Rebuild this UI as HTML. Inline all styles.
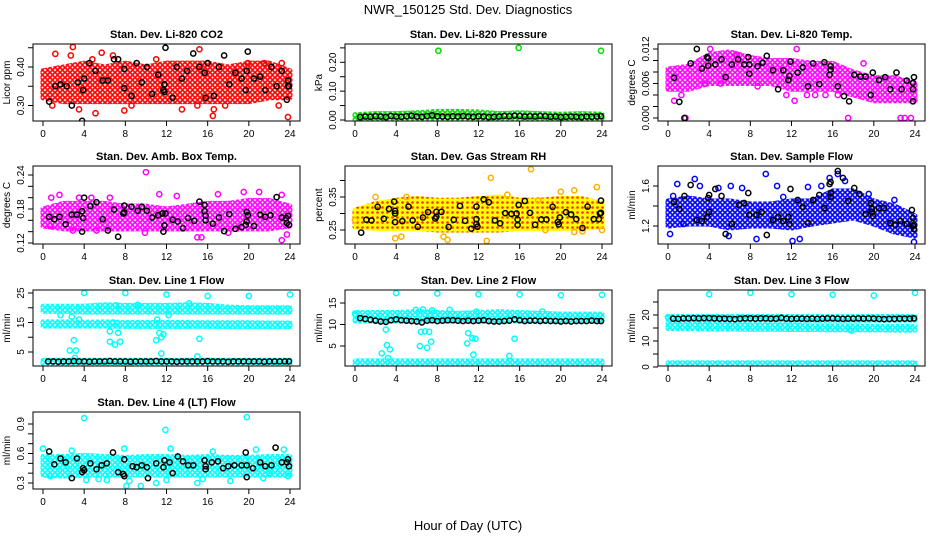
<!DOCTYPE html>
<html><head><meta charset="utf-8"><style>
html,body{margin:0;padding:0;background:#fff}
svg{display:block;font-family:"Liberation Sans",sans-serif}
</style></head><body>
<svg id="chart" width="936" height="540" viewBox="0 0 936 540">
<defs>
<pattern id="pat-red" patternUnits="userSpaceOnUse" width="5" height="5"><rect width="5" height="5" fill="#fff"/><circle cx="2.5" cy="2.5" r="1.8" fill="none" stroke="#ff0000" stroke-width="1.6"/></pattern>
<pattern id="pat-green" patternUnits="userSpaceOnUse" width="5" height="5"><rect width="5" height="5" fill="#fff"/><circle cx="2.5" cy="2.5" r="1.8" fill="none" stroke="#00dd00" stroke-width="1.6"/></pattern>
<pattern id="pat-magenta" patternUnits="userSpaceOnUse" width="5" height="5"><rect width="5" height="5" fill="#fff"/><circle cx="2.5" cy="2.5" r="1.8" fill="none" stroke="#ff00ff" stroke-width="1.6"/></pattern>
<pattern id="pat-orange" patternUnits="userSpaceOnUse" width="5" height="5"><rect width="5" height="5" fill="#ffff00"/><circle cx="2.5" cy="2.5" r="1.3" fill="#ff3000"/></pattern>
<pattern id="pat-blue" patternUnits="userSpaceOnUse" width="5" height="5"><rect width="5" height="5" fill="#fff"/><circle cx="2.5" cy="2.5" r="1.8" fill="none" stroke="#0000ff" stroke-width="1.6"/></pattern>
<pattern id="pat-cyan" patternUnits="userSpaceOnUse" width="5" height="5"><rect width="5" height="5" fill="#fff"/><circle cx="2.5" cy="2.5" r="1.8" fill="none" stroke="#00ffff" stroke-width="1.7"/></pattern>
</defs>
<text x="468" y="14" text-anchor="middle" font-size="13">NWR_150125  Std. Dev. Diagnostics</text>
<text x="468" y="530" text-anchor="middle" font-size="13">Hour of Day (UTC)</text>
</svg>
<script>
// ---- data ----
const bandHours = [0,2,4,6,8,10,12,14,16,18,20,22,24];
const chainHours = [0.5,1,1.5,2,2.5,3,3.5,4,4.5,5,5.5,6,6.5,7,7.5,8,8.5,9,9.5,10,10.5,11,11.5,12,12.5,13,13.5,14,14.5,15,15.5,16,16.5,17,17.5,18,18.5,19,19.5,20,20.5,21,21.5,22,22.5,23,23.5,23.9];

// P1 CO2
const co2BandLo = [0.32,0.31,0.31,0.31,0.31,0.31,0.31,0.31,0.31,0.31,0.31,0.32,0.32];
const co2BandHi = [0.39,0.40,0.41,0.40,0.41,0.40,0.41,0.41,0.41,0.40,0.41,0.41,0.39];
const co2OutH = [1.2,2.9,2.7,4.8,5.7,6.8,7.9,8.6,3.5,11,13.5,15.2,16.5,16.6,17.7,19.9,21.5,23.2,23.8,22.9,5.1,0.9,15.0];
const co2OutV = [0.434,0.452,0.43,0.42,0.437,0.43,0.287,0.30,0.29,0.42,0.29,0.446,0.273,0.29,0.30,0.41,0.41,0.41,0.27,0.30,0.28,0.30,0.30];
const co2BlkH = [0.6,1.2,1.7,2.3,2.8,3.4,3.8,3.9,4.0,4.5,5.1,5.8,6.3,6.9,7.3,7.9,7.9,8.6,9.1,9.6,10.1,10.6,11.2,11.7,11.8,11.9,11.8,12.6,13.0,13.5,14.0,14.6,15.2,15.7,15.8,16.0,16.6,17.1,17.6,18.1,18.7,19.3,19.7,19.8,19.9,20.5,21.1,21.6,22.2,22.7,23.2,23.7,23.8,23.8,23.9];
const co2BlkV = [0.31,0.35,0.355,0.35,0.30,0.36,0.26,0.34,0.37,0.41,0.39,0.365,0.365,0.42,0.42,0.395,0.345,0.325,0.41,0.36,0.40,0.33,0.38,0.34,0.335,0.45,0.355,0.32,0.40,0.37,0.39,0.435,0.40,0.385,0.32,0.41,0.325,0.40,0.43,0.355,0.385,0.37,0.34,0.39,0.44,0.37,0.375,0.34,0.40,0.35,0.39,0.315,0.365,0.35,0.35];

// P2 Pressure
const prBandLo = [0.003,0.003,0.003,0.003,0.003,0.003,0.003,0.003,0.003,0.003,0.003,0.003,0.003];
const prBandHi = [0.018,0.022,0.022,0.025,0.030,0.030,0.028,0.022,0.025,0.022,0.020,0.022,0.020];
const prOutH = [8.1,15.9,23.9];
const prOutV = [0.24,0.25,0.24];
const prBlkV = [0.010,0.012,0.011,0.013,0.012,0.010,0.014,0.012,0.011,0.013,0.015,0.012,0.011,0.014,0.016,0.013,0.012,0.011,0.013,0.012,0.014,0.012,0.011,0.013,0.012,0.010,0.011,0.012,0.014,0.013,0.015,0.014,0.012,0.013,0.012,0.014,0.013,0.011,0.012,0.010,0.011,0.012,0.011,0.010,0.012,0.011,0.012,0.013];

// P3 Li-820 Temp
const tBandLo = [0.005,0.005,0.006,0.006,0.006,0.006,0.005,0.005,0.005,0.004,0.003,0.003,0.003];
const tBandHi = [0.0085,0.009,0.011,0.0115,0.0105,0.010,0.010,0.0095,0.0095,0.008,0.007,0.007,0.006];
const tOutH = [0.6,1.7,1.3,3.6,12.3,11.5,13.5,14.3,15.3,16.5,17.5,22.6,23.0,23.6,5.1,12.5,4.1,19.0,6.7,8.7];
const tOutV = [0.003,0.000,0.004,0.006,0.003,0.004,0.004,0.004,0.004,0.004,0.000,0.000,0.000,0.000,0.006,0.012,0.012,0.0095,0.011,0.0055];
const tBlkH = [0.6,1.1,1.6,2.2,2.8,3.3,3.8,3.9,3.9,4.6,5.2,5.6,6.2,6.8,7.4,7.9,7.9,7.8,8.7,9.2,9.6,10.2,10.7,11.2,11.7,11.8,11.9,12.6,13.1,13.6,14.1,14.7,15.2,15.8,15.8,15.7,16.5,17.1,17.6,18.1,18.7,19.2,19.7,19.9,20.5,21.1,21.6,22.2,22.7,23.2,23.8,23.8,23.9,23.8];
const tBlkV = [0.0070,0.0028,0.0000,0.0095,0.0120,0.0086,0.0106,0.0104,0.0091,0.0093,0.0102,0.0071,0.0093,0.0102,0.0093,0.0077,0.0093,0.0106,0.0090,0.0096,0.0108,0.0083,0.0050,0.0083,0.0066,0.0073,0.0098,0.0079,0.0088,0.0055,0.0095,0.0059,0.0097,0.0090,0.0084,0.0075,0.0055,0.0038,0.0029,0.0075,0.0072,0.0072,0.0040,0.0079,0.0066,0.0071,0.0050,0.0079,0.0050,0.0065,0.0050,0.0061,0.0071,0.0029];

// P4 Amb box temp
const aBandLo = [0.15,0.145,0.145,0.145,0.145,0.145,0.145,0.145,0.145,0.145,0.145,0.145,0.15];
const aBandHi = [0.18,0.19,0.19,0.19,0.185,0.185,0.18,0.185,0.19,0.19,0.195,0.195,0.185];
const aOutH = [0.7,0.8,1.6,3.5,4.7,6.5,10.0,11.3,13.0,15.0,15.4,17.0,19.5,21.0,23.2,23.2,23.7,9.9,18.0,2.9,5.2];
const aOutV = [0.15,0.20,0.205,0.20,0.20,0.20,0.245,0.206,0.203,0.13,0.13,0.206,0.21,0.21,0.125,0.205,0.135,0.138,0.138,0.142,0.142];
const aBlkH = [0.6,1.1,1.6,2.2,2.8,3.3,3.8,3.8,3.9,4.0,4.6,5.2,5.8,6.3,6.9,7.3,7.8,7.9,7.9,8.6,9.2,9.6,10.1,10.6,11.2,11.6,11.7,11.8,11.9,12.6,13.1,13.6,14.1,14.7,15.2,15.7,15.7,15.8,15.8,16.5,17.1,17.6,18.1,18.7,19.3,19.7,19.8,19.8,19.9,20.5,21.1,21.6,22.1,22.7,23.2,23.6,23.7,23.8,23.9];
const aBlkV = [0.166,0.162,0.166,0.153,0.170,0.170,0.140,0.176,0.164,0.200,0.185,0.192,0.162,0.142,0.179,0.131,0.172,0.174,0.186,0.184,0.177,0.184,0.177,0.165,0.169,0.172,0.140,0.151,0.172,0.161,0.158,0.146,0.164,0.159,0.193,0.187,0.176,0.168,0.160,0.154,0.165,0.141,0.171,0.145,0.148,0.152,0.158,0.175,0.169,0.150,0.170,0.166,0.169,0.201,0.165,0.164,0.155,0.168,0.152];

// P5 Gas stream RH
const rhBandLo = [0.26,0.255,0.255,0.255,0.25,0.25,0.25,0.25,0.255,0.255,0.255,0.255,0.26];
const rhBandHi = [0.31,0.33,0.34,0.345,0.34,0.34,0.345,0.35,0.34,0.34,0.345,0.345,0.33];
const rhOutH = [17.1,13.2,12.8,23.5,20.0,21.3,14.8,9.0,8.6,4.5,3.9,21.3,22.1,24.0,0.0,2.0,5.0,18.5,17.8];
const rhOutV = [0.434,0.408,0.217,0.38,0.366,0.37,0.357,0.22,0.23,0.23,0.225,0.244,0.246,0.25,0.28,0.35,0.35,0.25,0.34];
const rhBlkH = [0.6,1.1,1.6,2.2,2.8,3.3,3.9,3.8,3.9,3.9,4.6,5.2,5.6,6.1,6.6,7.1,7.8,7.9,7.9,8.4,9.1,9.6,10.2,10.7,11.3,11.8,11.8,11.8,11.9,12.5,13.0,13.6,14.1,14.6,15.2,15.7,15.8,15.8,15.9,16.5,17.0,17.5,18.1,18.6,19.2,19.7,19.8,19.9,20.5,21.0,21.5,22.1,22.6,23.2,23.7,23.8,23.9,23.9];
const rhBlkV = [0.242,0.281,0.279,0.320,0.284,0.314,0.274,0.336,0.308,0.300,0.277,0.321,0.279,0.260,0.288,0.304,0.285,0.290,0.305,0.305,0.259,0.281,0.323,0.278,0.254,0.321,0.283,0.268,0.260,0.343,0.334,0.279,0.270,0.301,0.299,0.300,0.282,0.265,0.326,0.338,0.302,0.266,0.282,0.282,0.320,0.274,0.267,0.288,0.304,0.297,0.283,0.256,0.321,0.283,0.283,0.300,0.339,0.302];

// P6 Sample flow
const sfBandLo = [1.20,1.22,1.22,1.18,1.20,1.20,1.18,1.22,1.25,1.28,1.22,1.14,1.10];
const sfBandHi = [1.45,1.48,1.45,1.45,1.42,1.42,1.45,1.45,1.55,1.55,1.45,1.40,1.30];
const sfOutH = [0.2,0.5,0.9,2.6,3.1,4.9,6.1,7.3,7.2,9.5,10.6,11.2,12.8,13.6,14.9,15.7,16.5,17.2,23.9,8.6,5.9,1.5,22.0,12.1,19.5];
const sfOutV = [1.12,1.50,1.62,1.67,1.60,1.58,1.60,1.84,1.58,1.72,1.60,1.49,1.07,1.59,1.60,1.68,1.72,1.65,1.04,1.07,1.10,1.22,1.46,1.05,1.52];
const sfBlkH = [0.6,1.1,1.6,2.2,2.8,3.3,3.8,3.9,4.0,4.0,4.6,5.2,5.6,6.2,6.9,7.4,7.8,7.9,8.6,9.1,9.6,10.2,10.7,11.2,11.7,11.8,11.9,12.6,13.1,13.6,14.1,14.7,15.2,15.7,15.8,15.8,15.8,16.5,17.0,17.5,18.1,18.6,19.2,19.7,19.8,19.8,19.9,20.5,21.0,21.6,22.1,22.6,23.2,23.7,23.8,23.9,23.9,23.8];
const sfBlkV = [1.44,1.37,1.50,1.61,1.26,1.25,1.29,1.48,1.51,1.34,1.57,1.50,1.12,1.22,1.41,1.43,1.53,1.31,1.31,1.34,1.11,1.26,1.29,1.25,1.29,1.22,1.57,1.46,1.39,1.23,1.46,1.51,1.38,1.62,1.64,1.53,1.49,1.75,1.68,1.45,1.58,1.52,1.32,1.43,1.34,1.37,1.30,1.38,1.38,1.23,1.21,1.25,1.22,1.36,1.28,1.21,1.17,1.20];

// P7 Line 1 flow
const l1UpLo = [18.8,18.8,18.5,18.5,18.5,18.5,18.5,18.5,18.5,18.5,18.5,18.5,18.5];
const l1UpHi = [20.5,20.5,20.5,21.0,20.8,20.8,20.8,21.0,20.8,20.2,20.0,20.0,20.0];
const l1MidLo = [13.8,13.8,13.8,13.8,13.7,13.7,13.7,13.7,13.7,13.6,13.6,13.6,13.6];
const l1MidHi = [15.2,15.2,15.1,15.2,15.0,15.0,15.0,15.0,14.9,14.9,14.9,14.8,14.8];
const l1LowLo = [1.0,1.0,1.0,1.0,1.0,1.0,1.0,1.0,1.0,1.0,1.0,1.0,1.0];
const l1LowHi = [2.2,2.2,2.2,2.2,2.2,2.2,2.2,2.2,2.2,2.2,2.2,2.2,2.2];
const l1OutH = [4,8,12,16,20,24,2.6,3.2,3.0,3.1,2.8,6.5,6.5,7.0,7.3,7.5,11,11.1,11.3,11.5,11.7,11.5,15.2,15.0,7.1,9.2,14.2,1.7,3.5,6.8,12.2];
const l1OutV = [25,25,24.5,24,24,24.5,5.5,5.5,9,3,17,12,8.5,7.5,11.5,8.5,9,16,11.5,10,11,4.5,9.5,3.5,20.8,21,21.5,17.5,16,15,17.5];
const l1BlkV = [1.8,1.8,1.7,1.8,1.8,1.9,1.8,1.8,1.7,1.8,1.8,1.8,1.9,1.8,1.8,1.8,1.7,1.8,1.8,1.8,1.8,1.9,1.8,1.8,1.8,1.7,1.8,1.8,1.8,1.8,1.8,1.9,1.8,1.8,1.8,1.7,1.8,1.8,1.8,1.8,1.8,1.8,1.7,1.8,1.8,1.8,1.8,1.8];

// P8 Line 2 flow
const l2UpLo = [10.8,10.8,10.8,10.8,10.8,10.8,10.8,10.8,10.8,10.8,10.8,10.8,10.8];
const l2UpHi = [12.8,12.8,12.8,13.0,12.8,12.6,12.8,13.0,12.8,12.6,12.4,12.4,12.4];
const l2LowLo = [0.8,0.8,0.8,0.8,0.8,0.8,0.8,0.8,0.8,0.8,0.8,0.8,0.8];
const l2LowHi = [1.5,1.5,1.5,1.5,1.5,1.5,1.5,1.5,1.5,1.5,1.5,1.5,1.5];
const l2OutH = [0,4,8,12,16,20,24,3.0,2.6,3.1,3.2,3.4,6.3,6.4,6.8,7.0,7.2,7.4,6.6,7.5,11.0,11.4,11.7,10.9,11.5,15.0,15.5,9.2,5.9,11.8,18.2];
const l2OutV = [12.5,17.3,17.2,17,17,16.8,16.9,8.8,3.3,5.2,2.2,4.2,5.0,8.3,8.4,4.6,8.3,6.0,13.5,13.3,8.0,6.8,6.7,5.6,3.0,2.7,6.7,13.4,13.4,13.0,13.0];
const l2BlkV = [11.5,11.3,11.1,10.9,10.7,10.6,11.0,11.2,11.0,10.9,10.8,10.7,10.5,10.9,11.0,10.8,10.9,11.0,11.0,10.9,10.8,10.9,10.8,10.9,11.0,10.8,10.7,10.7,10.8,10.9,11.2,11.0,10.8,10.9,10.9,10.8,10.9,10.8,10.8,10.7,10.8,10.7,10.8,10.8,10.8,10.9,10.8,10.8];

// P9 Line 3 flow
const l3UpLo = [18.0,18.0,18.0,18.0,18.0,18.0,18.0,18.0,18.0,18.0,18.0,18.0,18.0];
const l3UpHi = [19.4,19.4,19.4,19.4,19.4,19.4,19.4,19.4,19.4,19.4,19.4,19.4,19.4];
const l3MidLo = [14.8,14.8,14.6,14.6,14.5,14.5,14.4,14.4,14.3,14.3,14.3,14.2,14.2];
const l3MidHi = [16.6,16.4,16.2,16.2,16.0,16.0,16.0,15.8,15.8,15.8,15.6,15.6,15.6];
const l3LowLo = [0.6,0.6,0.6,0.6,0.6,0.6,0.6,0.6,0.6,0.6,0.6,0.6,0.6];
const l3LowHi = [1.6,1.6,1.6,1.6,1.6,1.6,1.6,1.6,1.6,1.6,1.6,1.6,1.6];
const l3OutH = [4,8,12,16,20,24,17.8,0.0];
const l3OutV = [28,28.5,28,27.8,27.5,28.5,14,19.2];
const l3BlkV = [18.6,18.5,18.7,18.7,18.8,18.7,18.8,18.8,18.7,18.6,18.6,18.5,18.4,18.6,18.7,18.7,18.6,18.7,18.7,18.6,18.6,18.9,18.6,18.5,18.6,18.6,18.5,18.6,18.5,18.6,18.7,18.7,18.6,18.5,18.6,18.6,18.7,18.6,18.7,18.6,18.5,18.4,18.5,18.5,18.6,18.6,18.6,18.7];

// P10 Line 4 flow
const l4BandLo = [0.38,0.37,0.38,0.38,0.38,0.38,0.38,0.38,0.38,0.38,0.38,0.38,0.38];
const l4BandHi = [0.57,0.57,0.58,0.57,0.56,0.57,0.57,0.56,0.57,0.56,0.56,0.57,0.57];
const l4OutH = [0,4.0,4.2,6.2,7.9,8.1,8.4,9.5,11.9,12.0,12.4,15.0,15.5,18.2,19.8,20.7,21.4,22.0,23.4,23.8,2.8,0.7,5.4,16.5,11.0];
const l4OutV = [0.65,0.96,0.33,0.33,0.65,0.27,0.32,0.27,0.84,0.33,0.65,0.30,0.34,0.32,0.97,0.64,0.35,0.40,0.64,0.37,0.63,0.37,0.34,0.62,0.30];
const l4BlkH = [0.6,1.1,1.7,2.2,2.8,3.3,3.8,3.9,4.0,4.6,5.2,5.7,6.2,6.8,7.3,7.8,7.9,7.9,8.7,9.1,9.6,10.1,10.2,11.0,11.7,11.8,12.3,12.6,13.1,13.6,14.1,14.6,15.7,15.8,15.8,16.4,17.0,17.5,18.0,18.6,19.3,19.7,19.8,19.8,20.4,21.1,21.6,22.2,22.6,23.2,23.7,23.8,23.9];
const l4BlkV = [0.62,0.49,0.55,0.51,0.35,0.55,0.41,0.45,0.43,0.50,0.44,0.48,0.50,0.61,0.41,0.39,0.37,0.54,0.47,0.46,0.48,0.46,0.35,0.50,0.46,0.53,0.51,0.40,0.57,0.52,0.48,0.48,0.53,0.47,0.44,0.51,0.52,0.45,0.47,0.48,0.48,0.61,0.48,0.36,0.45,0.51,0.47,0.48,0.66,0.51,0.51,0.54,0.47];

const xTickVals = [0,4,8,12,16,20,24];

// ---- layout (not data) ----
const colX0 = [43,355,668], colBoxL = [33,345,658], colBoxR = [300,612,925], xSpan = 247;
const rowTop = [44,166,290,412], rowBot = [121,244,366,489];

const svg = document.getElementById('chart');
const NS = 'http://www.w3.org/2000/svg';
function mk(tag, attrs, parent){
  const e = document.createElementNS(NS, tag);
  for (const k in attrs) e.setAttribute(k, attrs[k]);
  (parent||svg).appendChild(e);
  return e;
}

function panel(cfg){
  const c = cfg.col, r = cfg.row;
  const g = mk('g', {});
  
  
  const xs = h => colX0[c] + h / 24 * xSpan;
  const ys = v => cfg.p0 + (v - cfg.v0) * (cfg.p1 - cfg.p0) / (cfg.v1 - cfg.v0);
  const L = colBoxL[c], R = colBoxR[c], T = rowTop[r], B = rowBot[r];
  const t = mk('text', {x:(L+R)/2, y:T-6, 'text-anchor':'middle', 'font-size':'11', 'font-weight':'bold'}, g);
  t.textContent = cfg.title;
  
  
  const clip = mk('clipPath', {id:'clip-'+cfg.id}, g);
  mk('rect', {x:L, y:T, width:R-L, height:B-T}, clip);
  const pg = mk('g', {'clip-path':'url(#clip-'+cfg.id+')'}, g);
  (cfg.bands||[]).forEach((bd, bi) => {
    let pts = [];
    bandHours.forEach((h,i) => pts.push(xs(h)+','+ys(bd.hi[i])));
    for (let i = bandHours.length-1; i >= 0; i--) pts.push(xs(bandHours[i])+','+ys(bd.lo[i]));
    const p = mk('polygon', {points:pts.join(' '), fill:'url(#'+cfg.pat+')', stroke:'url(#'+cfg.pat+')', 'stroke-width':'5', 'stroke-linejoin':'round'}, pg);
    
    
  });
  (cfg.series||[]).forEach(s => {
    s.h.forEach((h,i) => {
      const cc = mk('circle', {cx:xs(h), cy:ys(s.v[i]), r:2.6, fill:'none', stroke:s.color, 'stroke-width':'1.5'}, pg);
      
      
    });
  });
  const bx = mk('rect', {x:L, y:T, width:R-L, height:B-T, fill:'none', stroke:'#000', 'stroke-width':'1'}, g);
  
  
  xTickVals.forEach(v => {
    mk('line', {x1:xs(v), x2:xs(v), y1:B, y2:B+5, stroke:'#000'}, g);
    const lt = mk('text', {x:xs(v), y:B+16, 'text-anchor':'middle', 'font-size':'10'}, g);
    lt.textContent = v;
    
    
  });
  cfg.yTicks.forEach(v => {
    mk('line', {x1:L-5, x2:L, y1:ys(v), y2:ys(v), stroke:'#000'}, g);
  });
  cfg.yLabels.forEach(v => {
    const y = ys(v);
    const yt = mk('text', {x:L-9, y:y, 'text-anchor':'middle', 'font-size':'10', transform:'rotate(-90 '+(L-9)+' '+y+')'}, g);
    yt.textContent = cfg.fmt(v);
    
    
  });
  const yl = mk('text', {x:L-23, y:(T+B)/2, 'text-anchor':'middle', 'font-size':'10', transform:'rotate(-90 '+(L-23)+' '+((T+B)/2)+')'}, g);
  yl.textContent = cfg.ylab;
  
  
}

const f2 = v => v.toFixed(2), f3 = v => v.toFixed(3), f1 = v => v.toFixed(1), f0 = v => String(v);

panel({id:'co2', title:'Stan. Dev. Li-820 CO2', ylab:'Licor ppm', col:0, row:0, v0:0.40, p0:67, v1:0.30, p1:105.5,
  yTicks:[0.30,0.35,0.40,0.45], yLabels:[0.30,0.40], fmt:f2, color:'#ff0000', pat:'pat-red',
  bands:[{lo:co2BandLo, hi:co2BandHi}],
  series:[{name:'red', h:co2OutH, v:co2OutV, color:'#ff0000'},{name:'black', h:co2BlkH, v:co2BlkV, color:'#000'}]});
panel({id:'pressure', title:'Stan. Dev. Li-820 Pressure', ylab:'kPa', col:1, row:0, v0:0, p0:120, v1:0.20, p1:62.3,
  yTicks:[0,0.05,0.10,0.15,0.20,0.25], yLabels:[0,0.10,0.20], fmt:f2, color:'#00dd00', pat:'pat-green',
  bands:[{lo:prBandLo, hi:prBandHi}],
  series:[{name:'black', h:chainHours, v:prBlkV, color:'#000'},{name:'green', h:prOutH, v:prOutV, color:'#00dd00'}]});
panel({id:'li820-temp', title:'Stan. Dev. Li-820 Temp.', ylab:'degrees C', col:2, row:0, v0:0, p0:118, v1:0.012, p1:49,
  yTicks:[0,0.002,0.004,0.006,0.008,0.010,0.012], yLabels:[0,0.006,0.012], fmt:f3, color:'#ff00ff', pat:'pat-magenta',
  bands:[{lo:tBandLo, hi:tBandHi}],
  series:[{name:'magenta', h:tOutH, v:tOutV, color:'#ff00ff'},{name:'black', h:tBlkH, v:tBlkV, color:'#000'}]});
panel({id:'amb-box-temp', title:'Stan. Dev. Amb. Box Temp.', ylab:'degrees C', col:0, row:1, v0:0.24, p0:175, v1:0.12, p1:243,
  yTicks:[0.12,0.14,0.16,0.18,0.20,0.22,0.24], yLabels:[0.12,0.18,0.24], fmt:f2, color:'#ff00ff', pat:'pat-magenta',
  bands:[{lo:aBandLo, hi:aBandHi}],
  series:[{name:'magenta', h:aOutH, v:aOutV, color:'#ff00ff'},{name:'black', h:aBlkH, v:aBlkV, color:'#000'}]});
panel({id:'gas-rh', title:'Stan. Dev. Gas Stream RH', ylab:'percent', col:1, row:1, v0:0.35, p0:197, v1:0.25, p1:230,
  yTicks:[0.25,0.30,0.35,0.40], yLabels:[0.25,0.35], fmt:f2, color:'#ffaa00', pat:'pat-orange',
  bands:[{lo:rhBandLo, hi:rhBandHi}],
  series:[{name:'yellow', h:rhOutH, v:rhOutV, color:'#ffb000'},{name:'black', h:rhBlkH, v:rhBlkV, color:'#000'}]});
panel({id:'sample-flow', title:'Stan. Dev. Sample Flow', ylab:'ml/min', col:2, row:1, v0:1.6, p0:186, v1:1.2, p1:226,
  yTicks:[1.2,1.4,1.6], yLabels:[1.2,1.6], fmt:f1, color:'#0000ff', pat:'pat-blue',
  bands:[{lo:sfBandLo, hi:sfBandHi}],
  series:[{name:'blue', h:sfOutH, v:sfOutV, color:'#0000ff'},{name:'black', h:sfBlkH, v:sfBlkV, color:'#000'}]});
panel({id:'line1-flow', title:'Stan. Dev. Line 1 Flow', ylab:'ml/min', col:0, row:2, v0:25, p0:293, v1:5, p1:352,
  yTicks:[5,10,15,20,25], yLabels:[5,15,25], fmt:f0, color:'#00ffff', pat:'pat-cyan',
  bands:[{lo:l1UpLo, hi:l1UpHi},{lo:l1MidLo, hi:l1MidHi},{lo:l1LowLo, hi:l1LowHi}],
  series:[{name:'cyan', h:l1OutH, v:l1OutV, color:'#00ffff'},{name:'black', h:chainHours, v:l1BlkV, color:'#000'}]});
panel({id:'line2-flow', title:'Stan. Dev. Line 2 Flow', ylab:'ml/min', col:1, row:2, v0:15, p0:303, v1:5, p1:346,
  yTicks:[5,10,15], yLabels:[5,10,15], fmt:f0, color:'#00ffff', pat:'pat-cyan',
  bands:[{lo:l2UpLo, hi:l2UpHi},{lo:l2LowLo, hi:l2LowHi}],
  series:[{name:'cyan', h:l2OutH, v:l2OutV, color:'#00ffff'},{name:'black', h:chainHours, v:l2BlkV, color:'#000'}]});
panel({id:'line3-flow', title:'Stan. Dev. Line 3 Flow', ylab:'ml/min', col:2, row:2, v0:20, p0:315, v1:0, p1:367,
  yTicks:[0,5,10,15,20,25], yLabels:[0,10,20], fmt:f0, color:'#00ffff', pat:'pat-cyan',
  bands:[{lo:l3UpLo, hi:l3UpHi},{lo:l3MidLo, hi:l3MidHi},{lo:l3LowLo, hi:l3LowHi}],
  series:[{name:'cyan', h:l3OutH, v:l3OutV, color:'#00ffff'},{name:'black', h:chainHours, v:l3BlkV, color:'#000'}]});
panel({id:'line4-flow', title:'Stan. Dev. Line 4 (LT) Flow', ylab:'ml/min', col:0, row:3, v0:0.9, p0:424, v1:0.3, p1:483,
  yTicks:[0.3,0.4,0.5,0.6,0.7,0.8,0.9], yLabels:[0.3,0.6,0.9], fmt:f1, color:'#00ffff', pat:'pat-cyan',
  bands:[{lo:l4BandLo, hi:l4BandHi}],
  series:[{name:'cyan', h:l4OutH, v:l4OutV, color:'#00ffff'},{name:'black', h:l4BlkH, v:l4BlkV, color:'#000'}]});
</script>
</body></html>
